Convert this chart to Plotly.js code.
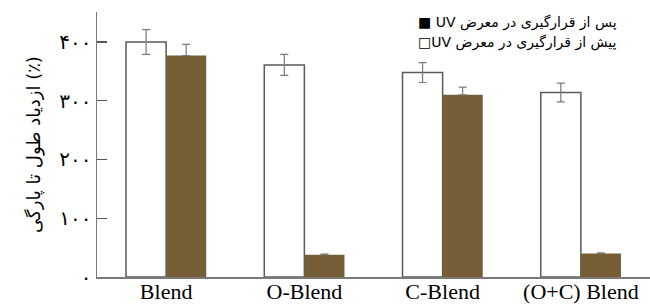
<!DOCTYPE html>
<html>
<head>
<meta charset="utf-8">
<script src="https://cdn.plot.ly/plotly-3.0.1.min.js"></script>
<style>html,body{margin:0;padding:0;background:#fff;}#chart{width:650px;height:305px;}</style>
</head>
<body>
<div id="chart"></div>
<script>
var categories = ["Blend", "O-Blend", "C-Blend", "(O+C) Blend"];
var beforeUV = [400, 361, 348, 314];
var beforeUVErr = [21, 18, 17, 16];
var afterUV = [377, 38, 310, 40];
var afterUVErr = [19, 1, 13, 1];
var tickValues = [0, 100, 200, 300, 400];
var tickLabels = ["۰", "۱۰۰", "۲۰۰", "۳۰۰", "۴۰۰"];
var nameBefore = "پیش از قرارگیری در معرض UV";
var nameAfter = "پس از قرارگیری در معرض UV";

var errStyle = {color: "#7a7a7a", thickness: 1.2, width: 4};

var traces = [
  {
    type: "bar", x: categories, y: beforeUV, name: nameBefore,
    marker: {color: "#ffffff", line: {color: "#5a5a5a", width: 1.5}},
    error_y: Object.assign({type: "data", array: beforeUVErr, visible: true}, errStyle)
  },
  {
    type: "bar", x: categories, y: afterUV, name: nameAfter,
    marker: {color: "#765e37", line: {color: "#765e37", width: 0}},
    error_y: Object.assign({type: "data", symmetric: false, array: afterUVErr, arrayminus: [0,0,0,0], visible: true}, errStyle)
  }
];

var layout = {
  width: 650, height: 305,
  margin: {l: 97, r: 0, t: 12, b: 28},
  paper_bgcolor: "#ffffff", plot_bgcolor: "#ffffff",
  barmode: "group", bargap: 0.42, bargroupgap: 0,
  showlegend: false,
  font: {family: "Liberation Serif, DejaVu Sans, serif", color: "#000"},
  xaxis: {
    type: "category", range: [-0.5, 3.5],
    showline: true, linecolor: "#7a7a7a", linewidth: 1.5,
    ticks: "", showgrid: false, zeroline: false,
    ticklabelstandoff: -6,
    tickfont: {family: "Liberation Serif, serif", size: 22, color: "#000"}
  },
  yaxis: {
    range: [0, 451], automargin: false,
    showline: true, linecolor: "#7a7a7a", linewidth: 1.5,
    ticks: "inside", ticklen: 10, tickcolor: "#555", tickwidth: 1.2,
    tickmode: "array", tickvals: tickValues, ticktext: tickLabels,
    showgrid: false, zeroline: false,
    tickfont: {family: "DejaVu Sans, serif", size: 20, color: "#000"},
    title: {text: "ازدیاد طول تا پارگی (٪)", standoff: 14,
            font: {family: "DejaVu Sans, serif", size: 18, color: "#000"}}
  },
  annotations: [
    {xref: "paper", yref: "paper", x: 0.944, y: 0.962, xanchor: "right", yanchor: "middle",
     showarrow: false, text: "■ UV پس از قرارگیری در معرض",
     font: {family: "DejaVu Sans, serif", size: 14, color: "#000"}},
    {xref: "paper", yref: "paper", x: 0.944, y: 0.886, xanchor: "right", yanchor: "middle",
     showarrow: false, text: "□UV پیش از قرارگیری در معرض",
     font: {family: "DejaVu Sans, serif", size: 14, color: "#000"}}
  ]
};

Plotly.newPlot("chart", traces, layout, {displayModeBar: false, staticPlot: true});
</script>
</body>
</html>
